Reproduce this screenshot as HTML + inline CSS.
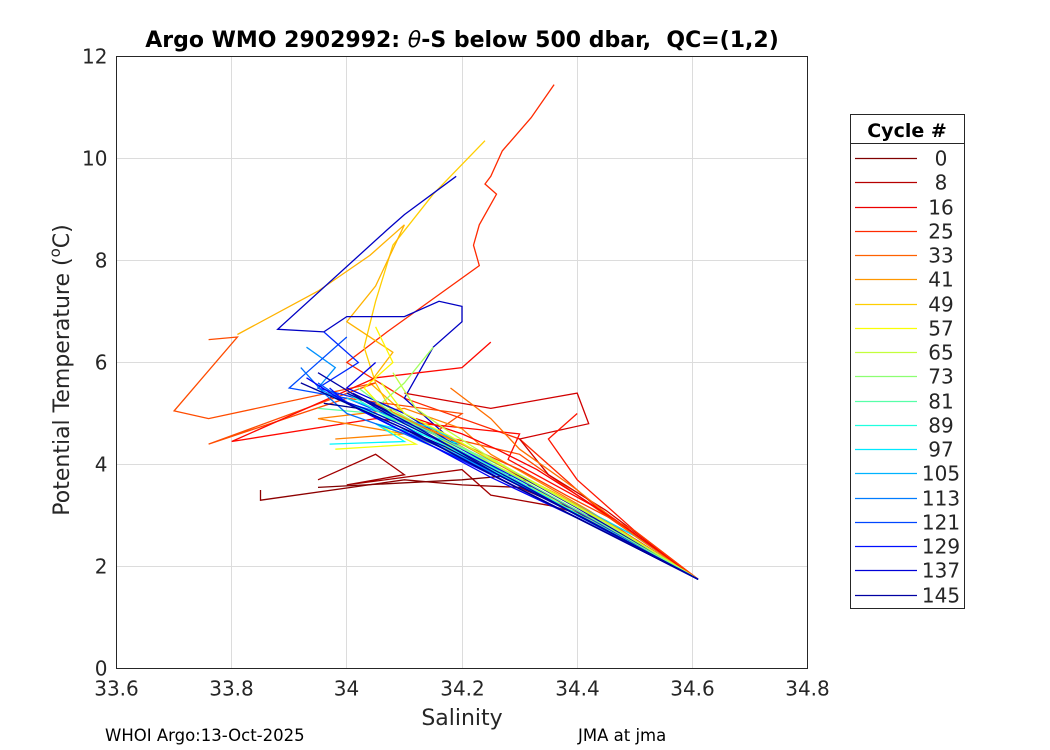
<!DOCTYPE html>
<html><head><meta charset="utf-8"><style>
body{margin:0;background:#fff;font-family:"DejaVu Sans","Liberation Sans",sans-serif;}
svg{display:block}
</style></head><body>
<svg id="chart" width="1050" height="750" xmlns="http://www.w3.org/2000/svg">
<rect width="1050" height="750" fill="#fff"/>
<g id="grid"></g>
<g id="plot"></g>
<rect x="116.5" y="56.5" width="691" height="612" fill="none" stroke="#262626" stroke-width="1"/>
<g id="ticks" font-size="20" fill="#262626"></g>
<text x="462" y="47" text-anchor="middle" font-size="22" font-weight="bold" fill="#000">Argo WMO 2902992: <tspan font-style="italic" font-weight="normal">θ</tspan>-S below 500 dbar,&#160; QC=(1,2)</text>
<text x="462" y="725" text-anchor="middle" font-size="22" fill="#262626">Salinity</text>
<text transform="translate(69,370) rotate(-90)" text-anchor="middle" font-size="22" fill="#262626">Potential Temperature (<tspan dy="-9" font-size="15">o</tspan><tspan dy="9">C)</tspan></text>
<text x="105" y="741" font-size="16.5" fill="#000">WHOI Argo:13-Oct-2025</text>
<text x="578" y="741" font-size="16.5" fill="#000">JMA at jma</text>
<g id="legend"></g>
</svg>
<script>
const xTicks=[33.6,33.8,34,34.2,34.4,34.6,34.8];
const xTickLabels=["33.6","33.8","34","34.2","34.4","34.6","34.8"];
const yTicks=[0,2,4,6,8,10,12];
const yTickLabels=["0","2","4","6","8","10","12"];
const legendCycles=[0,8,16,25,33,41,49,57,65,73,81,89,97,105,113,121,129,137,145];
const profileCycles=[25,49,45,140,30,20,2,5,0,12,38,55,58,70,80,95,110,120,125,115,135,145,100,35,22,
 18,28,40,60,66,76,86,92,104,108,118,128,132,138,142,148,146,144];
const profileS=[
[34.36,34.32,34.27,34.25,34.24,34.26,34.23,34.22,34.23,34.07,34.0,34.1,34.3,34.45,34.61],
[34.24,34.15,34.08,34.05,34.03,34.05,34.08,34.2,34.4,34.61],
[33.81,33.95,34.04,34.1,34.05,34.0,34.08,34.04,34.1,34.3,34.61],
[34.19,34.1,34.07,33.88,33.96,34.0,34.1,34.16,34.2,34.2,34.15,34.12,34.1,34.2,34.4,34.61],
[33.76,33.81,33.7,33.76,34.05,33.76,34.0,34.2,34.15,34.3,34.45,34.61],
[34.25,34.2,34.05,33.8,34.05,34.3,34.28,34.45,34.61],
[33.85,33.85,34.1,34.2,34.3,34.35,34.45,34.61],
[33.95,34.05,34.1,34.0,34.2,34.25,34.35,34.45,34.61],
[33.95,34.2,34.3,34.33,34.4,34.61],
[34.1,34.25,34.4,34.42,34.3,34.35,34.45,34.61],
[33.98,34.1,33.95,34.1,34.2,34.25,34.42,34.61],
[34.05,34.08,34.03,34.08,34.2,34.4,34.61],
[33.98,34.12,34.05,34.2,34.4,34.61],
[34.15,34.1,34.06,34.2,34.4,34.61],
[33.95,34.05,34.15,34.3,34.5,34.61],
[33.97,34.1,34.05,34.2,34.4,34.61],
[33.93,33.98,33.95,34.0,34.1,34.25,34.45,34.61],
[34.0,33.93,33.9,34.0,34.15,34.35,34.61],
[33.96,34.02,33.95,34.05,34.2,34.4,34.61],
[33.92,33.96,34.0,34.1,34.3,34.61],
[34.05,34.0,34.1,34.2,34.4,34.61],
[34.01,34.08,34.2,34.4,34.61],
[34.0,34.15,34.3,34.5,34.61],
[34.18,34.25,34.3,34.4,34.5,34.61],
[34.4,34.35,34.4,34.5,34.61],
[34.12,34.2,34.26,34.33,34.4,34.48,34.61],
[34.08,34.16,34.22,34.3,34.38,34.5,34.61],
[34.05,34.12,34.2,34.28,34.36,34.47,34.61],
[34.06,34.1,34.18,34.25,34.35,34.46,34.61],
[34.08,34.12,34.17,34.24,34.33,34.45,34.61],
[34.02,34.08,34.15,34.22,34.32,34.44,34.61],
[34.0,34.06,34.14,34.21,34.31,34.43,34.61],
[33.98,34.06,34.13,34.2,34.3,34.43,34.61],
[33.96,34.04,34.12,34.19,34.29,34.42,34.61],
[33.94,34.02,34.1,34.18,34.28,34.42,34.61],
[33.95,34.01,34.09,34.17,34.27,34.41,34.61],
[33.97,34.0,34.08,34.16,34.26,34.4,34.61],
[33.93,34.0,34.07,34.15,34.25,34.4,34.61],
[33.98,34.03,34.1,34.17,34.27,34.41,34.61],
[34.0,34.05,34.11,34.18,34.28,34.41,34.61],
[33.96,34.02,34.09,34.16,34.26,34.4,34.61],
[33.92,34.0,34.08,34.17,34.28,34.42,34.61],
[33.95,34.03,34.1,34.18,34.27,34.41,34.61]
];
const profileT=[
[11.45,10.8,10.15,9.65,9.5,9.3,8.7,8.3,7.9,6.6,6.0,5.3,4.5,3.0,1.75],
[10.35,9.3,8.3,7.2,6.3,5.6,5.0,4.2,3.1,1.75],
[6.55,7.4,8.1,8.7,7.5,6.8,6.2,5.6,5.0,3.7,1.75],
[9.65,8.9,8.6,6.65,6.6,6.9,6.9,7.2,7.1,6.8,6.3,5.7,5.3,4.3,3.1,1.75],
[6.45,6.5,5.05,4.9,5.6,4.4,5.3,5.0,4.6,4.2,3.0,1.75],
[6.4,5.9,5.7,4.45,4.9,4.6,4.1,3.05,1.75],
[3.5,3.3,3.7,3.6,3.55,3.3,2.8,1.75],
[3.7,4.2,3.8,3.6,3.9,3.4,3.2,2.9,1.75],
[3.55,3.7,3.8,3.4,3.1,1.75],
[5.4,5.1,5.4,4.8,4.5,3.8,3.1,1.75],
[4.5,4.6,4.9,5.1,4.7,4.2,3.1,1.75],
[6.7,6.0,5.5,4.9,4.3,3.2,1.75],
[4.3,4.4,4.8,4.2,3.1,1.75],
[6.3,5.6,5.2,4.3,3.1,1.75],
[5.1,5.0,4.6,3.8,2.6,1.75],
[4.4,4.45,4.8,4.4,3.2,1.75],
[6.3,5.9,5.5,5.2,4.9,4.0,2.8,1.75],
[6.5,5.8,5.5,5.3,4.6,3.4,1.75],
[6.6,6.0,5.5,5.2,4.3,3.0,1.75],
[5.9,5.4,5.0,4.6,3.6,1.75],
[6.0,5.5,5.0,4.3,3.1,1.75],
[5.4,5.0,4.4,3.15,1.75],
[5.3,4.7,3.8,2.6,1.75],
[5.5,4.9,4.3,3.5,2.6,1.75],
[5.0,4.5,3.7,2.7,1.75],
[4.9,4.6,4.3,3.9,3.4,2.8,1.75],
[5.0,4.6,4.3,3.9,3.4,2.7,1.75],
[5.2,4.8,4.4,3.9,3.45,2.75,1.75],
[5.6,5.0,4.55,4.1,3.5,2.8,1.75],
[5.8,5.1,4.7,4.2,3.6,2.85,1.75],
[5.5,5.0,4.6,4.2,3.6,2.85,1.75],
[5.4,5.0,4.6,4.2,3.6,2.85,1.75],
[5.3,4.95,4.6,4.2,3.6,2.85,1.75],
[5.4,5.0,4.6,4.2,3.65,2.9,1.75],
[5.5,5.1,4.7,4.25,3.7,2.9,1.75],
[5.6,5.15,4.7,4.3,3.7,2.9,1.75],
[5.5,5.2,4.75,4.3,3.75,2.95,1.75],
[5.7,5.2,4.8,4.35,3.75,2.95,1.75],
[5.3,5.1,4.75,4.3,3.7,2.9,1.75],
[5.4,5.15,4.8,4.35,3.75,2.95,1.75],
[5.2,5.1,4.75,4.35,3.75,2.95,1.75],
[5.6,5.2,4.8,4.35,3.7,2.9,1.75],
[5.8,5.25,4.8,4.35,3.75,2.95,1.75]
];
const NS="http://www.w3.org/2000/svg";
const x0=116.5,x1=807.5,y0=668.5,y1=56.5;
function xs(s){return x0+(s-33.6)/1.2*(x1-x0);}
function ys(t){return y0-t/12*(y0-y1);}
function jet(v){v=Math.max(0,Math.min(1,v));
 const r=Math.min(4*v-1.5,-4*v+4.5),g=Math.min(4*v-0.5,-4*v+3.5),b=Math.min(4*v+0.5,-4*v+2.5);
 const c=x=>Math.round(255*Math.max(0,Math.min(1,x)));return `rgb(${c(r)},${c(g)},${c(b)})`;}
function cycColor(c){return jet(1-c/150);}
function mk(tag,attrs,parent){const e=document.createElementNS(NS,tag);for(const k in attrs)e.setAttribute(k,attrs[k]);parent.appendChild(e);return e;}
const grid=document.getElementById('grid'),ticks=document.getElementById('ticks');
xTicks.forEach((v,i)=>{const X=Math.round(xs(v)-0.5)+0.5;
 const l=mk('line',{x1:X,x2:X,y1:y1,y2:y0,stroke:'#dcdcdc'},grid);
 
 
 const t=mk('text',{x:X,y:y0+27,'text-anchor':'middle'},ticks);t.textContent=xTickLabels[i];
 
 });
yTicks.forEach((v,i)=>{const Y=Math.round(ys(v)-0.5)+0.5;
 const l=mk('line',{x1:x0,x2:x1,y1:Y,y2:Y,stroke:'#dcdcdc'},grid);
 
 
 const t=mk('text',{x:x0-9,y:Y+7,'text-anchor':'end'},ticks);t.textContent=yTickLabels[i];
 
 });
const plot=document.getElementById('plot');
profileCycles.forEach((c,i)=>{
 const pts=profileS[i].map((s,j)=>xs(s).toFixed(1)+','+ys(profileT[i][j]).toFixed(1)).join(' ');
 const p=mk('polyline',{points:pts,fill:'none',stroke:cycColor(c),'stroke-width':1.3},plot);
 
 });
const lg=document.getElementById('legend');
const box=mk('rect',{x:850.5,y:114.5,width:114,height:494,fill:'#fff',stroke:'#262626'},lg);


mk('line',{x1:850,x2:964,y1:143.5,y2:143.5,stroke:'#262626'},lg);
const ht=mk('text',{x:907,y:137,'text-anchor':'middle','font-size':19,'font-weight':'bold'},lg);ht.textContent='Cycle #';


legendCycles.forEach((c,i)=>{const Y=Math.round(158+i*24.25)+0.5;
 const g=mk('g',{},lg);
 
 
 mk('line',{x1:855,x2:917,y1:Y,y2:Y,stroke:cycColor(c),'stroke-width':1.3},g);
 const t=mk('text',{x:941,y:Y+7,'text-anchor':'middle','font-size':20,fill:'#262626'},g);t.textContent=c;});
</script>
</body></html>
